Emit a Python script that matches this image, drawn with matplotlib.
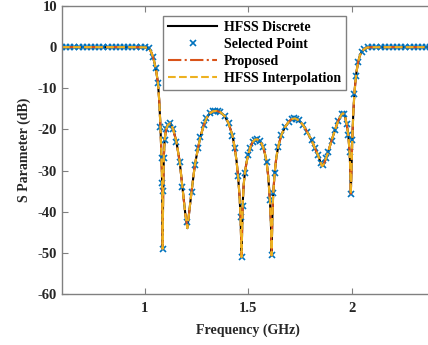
import matplotlib
matplotlib.use('Agg')
import matplotlib.pyplot as plt

plt.rcParams['font.family'] = ['Liberation Serif', 'DejaVu Serif']
plt.rcParams['font.weight'] = 'bold'
plt.rcParams['axes.unicode_minus'] = False

# curve (frequency in GHz, S parameter in dB)
freq_line = [0.6, 0.7, 0.8, 0.9, 0.95, 1.0, 1.015, 1.025, 1.032, 1.04,
             1.048, 1.056, 1.064, 1.07, 1.076, 1.081, 1.084, 1.0865, 1.089, 1.092,
             1.096, 1.103, 1.112, 1.124, 1.137, 1.153, 1.169, 1.182, 1.196, 1.206,
             1.215, 1.226, 1.242, 1.258, 1.269, 1.285, 1.298, 1.314, 1.33, 1.347,
             1.365, 1.387, 1.405, 1.424, 1.435, 1.444, 1.451, 1.458, 1.463, 1.468,
             1.473, 1.478, 1.484, 1.492, 1.5, 1.51, 1.521, 1.532, 1.543, 1.555,
             1.565, 1.572, 1.58, 1.589, 1.597, 1.605, 1.61, 1.613, 1.617, 1.621,
             1.628, 1.636, 1.645, 1.66, 1.677, 1.695, 1.71, 1.726, 1.745, 1.766,
             1.786, 1.806, 1.822, 1.838, 1.85, 1.858, 1.866, 1.876, 1.887, 1.903,
             1.919, 1.935, 1.952, 1.959, 1.968, 1.976, 1.984, 1.99, 1.993, 1.996,
             1.999, 2.003, 2.008, 2.013, 2.018, 2.024, 2.032, 2.04, 2.048, 2.06,
             2.073, 2.09, 2.2, 2.3, 2.4]
s_line = [0, 0, 0, 0, -0.01, -0.05, -0.2, -0.6, -1.3, -2.4,
          -4.0, -6.0, -8.8, -13.0, -19.4, -27.0, -33.0, -49.0, -35.0, -27.0,
          -22.5, -20.0, -18.9, -18.5, -19.9, -23.0, -27.9, -34.0, -40.5, -44.0,
          -40.0, -35.2, -28.7, -24.4, -21.8, -19.0, -17.3, -16.1, -15.6, -15.5,
          -15.8, -16.8, -18.5, -21.5, -24.5, -27.8, -31.4, -36.0, -41.2, -51.0,
          -38.5, -33.5, -30.5, -28.0, -26.2, -24.4, -23.1, -22.5, -22.4, -22.8,
          -23.5, -24.3, -25.7, -27.9, -31.5, -37.2, -43.0, -50.6, -41.0, -35.5,
          -30.5, -26.8, -24.2, -21.4, -19.5, -18.2, -17.5, -17.3, -17.8, -19.0,
          -20.7, -22.6, -24.5, -26.3, -28.1, -28.9, -28.4, -27.0, -25.4, -22.7,
          -20.2, -17.9, -16.3, -16.1, -16.9, -18.7, -21.4, -25.5, -29.0, -35.6,
          -30.0, -22.5, -16.0, -11.5, -8.5, -5.8, -3.5, -2.0, -1.2, -0.5,
          -0.12, -0.02, 0, 0, 0]

# selected points
freq_pts = [0.6, 0.62, 0.64, 0.66, 0.68, 0.7, 0.72, 0.74, 0.76, 0.78,
            0.8, 0.82, 0.84, 0.86, 0.88, 0.9, 0.92, 0.94, 0.96, 0.98,
            1.0, 1.02, 1.04, 1.053, 1.064, 1.076, 1.081, 1.084, 1.0865, 1.089,
            1.092, 1.096, 1.103, 1.112, 1.124, 1.137, 1.153, 1.169, 1.182, 1.204,
            1.226, 1.242, 1.258, 1.269, 1.285, 1.298, 1.314, 1.33, 1.34, 1.352,
            1.365, 1.387, 1.405, 1.424, 1.435, 1.451, 1.463, 1.468, 1.473, 1.484,
            1.5, 1.51, 1.521, 1.532, 1.543, 1.555, 1.572, 1.589, 1.605, 1.613,
            1.621, 1.628, 1.645, 1.66, 1.677, 1.695, 1.71, 1.72, 1.732, 1.745,
            1.766, 1.786, 1.806, 1.822, 1.838, 1.85, 1.862, 1.876, 1.887, 1.903,
            1.919, 1.935, 1.952, 1.962, 1.976, 1.984, 1.99, 1.996, 2.003, 2.013,
            2.021, 2.032, 2.048, 2.06, 2.08, 2.1, 2.12, 2.14, 2.16, 2.18,
            2.2, 2.22, 2.24, 2.26, 2.28, 2.3, 2.32, 2.34, 2.36, 2.38, 2.4]
s_pts = [0, 0, 0, 0, 0, 0, 0, 0, 0, 0,
         0, 0, 0, 0, 0, 0, 0, 0, 0, 0,
         -0.05, -0.3, -2.4, -5.0, -8.8, -19.4, -27.0, -33.0, -49.0, -35.0,
         -27.0, -22.5, -20.0, -18.9, -18.5, -19.9, -23.0, -27.9, -34.0, -42.5,
         -35.2, -28.7, -24.4, -21.8, -19.0, -17.3, -16.1, -15.6, -15.5, -15.5,
         -15.8, -16.8, -18.5, -21.5, -24.5, -31.4, -41.2, -51.0, -38.5, -30.5,
         -26.2, -24.4, -23.1, -22.5, -22.4, -22.8, -24.3, -27.9, -37.2, -50.6,
         -35.5, -30.5, -24.2, -21.4, -19.5, -18.2, -17.5, -17.3, -17.4, -17.8,
         -19.0, -20.7, -22.6, -24.5, -26.3, -28.1, -28.7, -27.0, -25.4, -22.7,
         -20.2, -17.9, -16.3, -16.3, -18.7, -21.4, -25.5, -35.6, -22.5, -11.5,
         -7.0, -3.5, -1.2, -0.5, -0.05, 0, 0, 0, 0, 0,
         0, 0, 0, 0, 0, 0, 0, 0, 0, 0, 0]

xticks = [1, 1.5, 2]
xticklabels = ['1', '1.5', '2']
yticks = [-60, -50, -40, -30, -20, -10, 0, 10]

fig = plt.figure(figsize=(4.28, 3.45), dpi=100)
ax = fig.add_axes([62 / 428, 51 / 345, 372.4 / 428, 288 / 345])

ax.plot(freq_line, s_line, color='black', lw=1.5, label='HFSS Discrete')
ax.plot(freq_pts, s_pts, ls='none', marker='x', color='#0072BD',
        ms=5, mew=1.2, label='Selected Point')
ax.plot(freq_line, s_line, color='#D95319', lw=1.5, ls='-.', label='Proposed')
ax.plot(freq_line, s_line, color='#EDB120', lw=1.5, ls='--',
        label='HFSS Interpolation')

ax.set_xlim(0.6, 2.4)
ax.set_ylim(-60, 10)
ax.set_xticks(xticks)
ax.set_xticklabels(xticklabels)
ax.set_yticks(yticks)
ax.tick_params(direction='in', length=4, width=0.8, color='#808080',
               labelsize=10.5, labelcolor='#262626', top=True, right=True)
ax.tick_params(axis='x', pad=6)
for lab in ax.get_xticklabels() + ax.get_yticklabels():
    lab.set_fontweight('bold')
for sp in ax.spines.values():
    sp.set_color('#808080')
    sp.set_linewidth(1.0)

ax.set_xlabel('Frequency (GHz)', fontsize=10, fontweight='bold',
              color='#262626', labelpad=6)
ax.set_ylabel('S Parameter (dB)', fontsize=10, fontweight='bold',
              color='#262626', labelpad=5)

leg = ax.legend(loc='upper left', bbox_to_anchor=(0.271, 0.965),
                borderaxespad=0, fontsize=10, handlelength=3.5,
                handletextpad=0.5, labelspacing=0.27, borderpad=0.38,
                fancybox=False, framealpha=1, edgecolor='#808080')
leg.get_frame().set_linewidth(1.0)
for t in leg.get_texts():
    t.set_fontweight('bold')

fig.savefig('out.png', dpi=100)
